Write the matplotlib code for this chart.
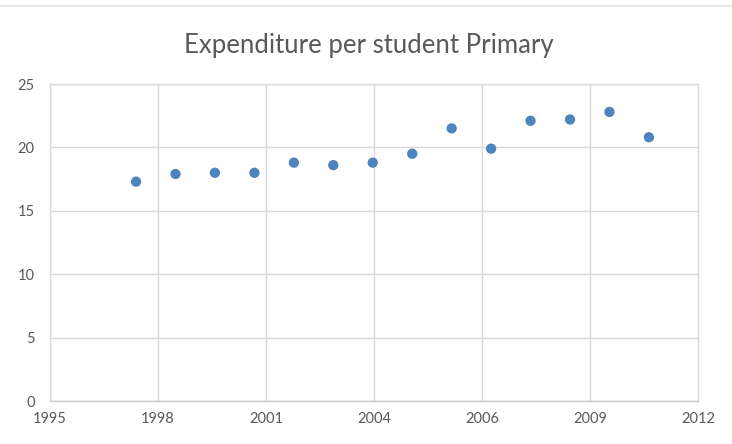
import datetime as dt
import matplotlib
matplotlib.use("Agg")
import matplotlib.pyplot as plt
import matplotlib.dates as mdates

# expenditure per primary student, one reading per year
years = [1998, 1999, 2000, 2001, 2002, 2003, 2004,
         2005, 2006, 2007, 2008, 2009, 2010, 2011]
spend = [17.3, 17.9, 18.0, 18.0, 18.8, 18.6, 18.8,
         19.5, 21.5, 19.9, 22.1, 22.2, 22.8, 20.8]
y_ticks = [0, 5, 10, 15, 20, 25]

GRID = "#d9d9d9"
TEXT = "#595959"
DOT = "#4e84bc"

plt.rcParams["font.family"] = ["Lato", "DejaVu Sans"]

fig = plt.figure(figsize=(7.32, 4.44), dpi=100)
ax = fig.add_axes([0.0683, 0.0968, 0.8853, 0.714])

dates = [dt.datetime(y, 1, 1) for y in years]
ax.scatter(dates, spend, s=55, color=DOT, edgecolors="none", zorder=3)

# date axis: 1000-day major unit, labelled by year
start = dt.datetime(1995, 10, 27)
step = dt.timedelta(days=1000)
ax.set_xlim(start, start + 6 * step)
ax.set_xticks([start + k * step for k in range(7)])
ax.xaxis.set_major_formatter(mdates.DateFormatter("%Y"))

ax.set_ylim(0, 25)
ax.set_yticks(y_ticks)

ax.grid(True, color=GRID, linewidth=1)
ax.set_axisbelow(True)
for side in ax.spines.values():
    side.set_color(GRID)
    side.set_linewidth(1)
ax.spines["bottom"].set_color("#c8c8c8")

ax.tick_params(axis="both", length=0, labelsize=10.5, labelcolor=TEXT)
ax.tick_params(axis="y", pad=11)
ax.tick_params(axis="x", pad=8)

fig.text(0.504, 0.897, "Expenditure per student Primary",
         ha="center", va="center", fontsize=18.5, color=TEXT)

# thin frame line along the top edge
fig.add_artist(plt.Line2D([0, 1], [0.986, 0.986], transform=fig.transFigure,
                          color="#e3e3e3", linewidth=1.2))

fig.savefig("out.png", dpi=100)
